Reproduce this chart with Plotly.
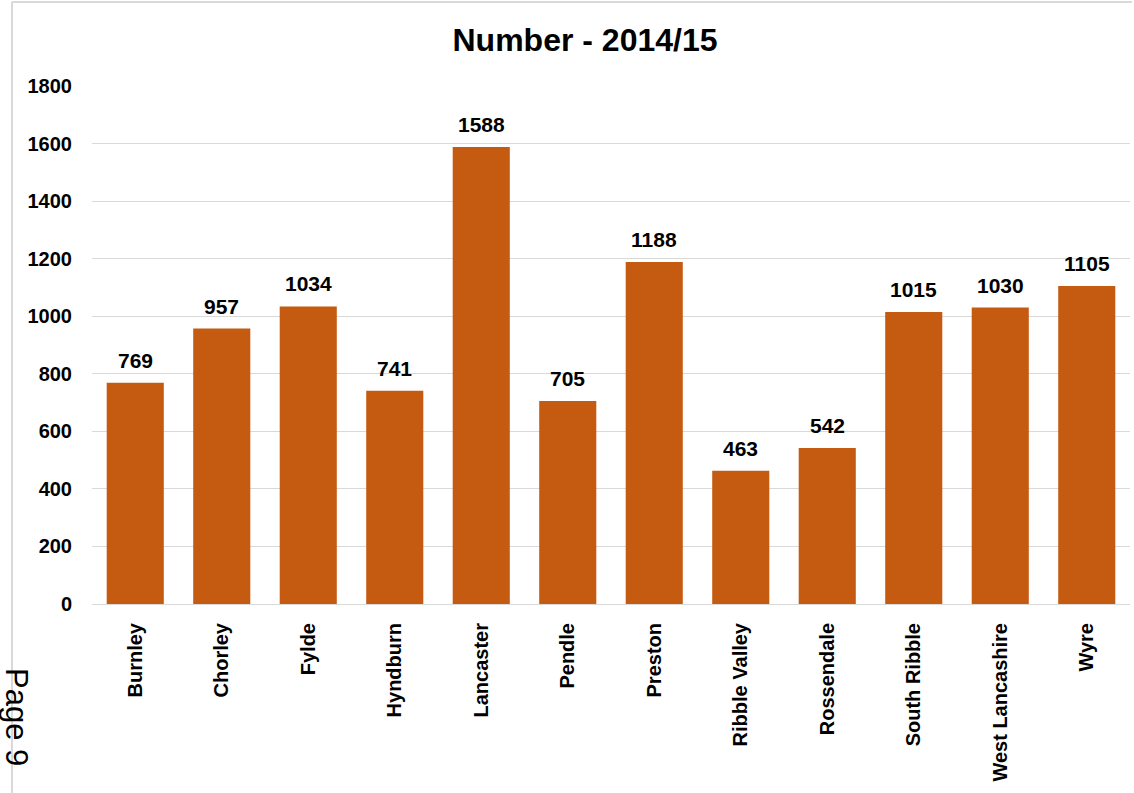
import plotly.graph_objects as go

categories = ["Burnley", "Chorley", "Fylde", "Hyndburn", "Lancaster", "Pendle", "Preston",
              "Ribble Valley", "Rossendale", "South Ribble", "West Lancashire", "Wyre"]
values = [769, 957, 1034, 741, 1588, 705, 1188, 463, 542, 1015, 1030, 1105]
y_ticks = [0, 200, 400, 600, 800, 1000, 1200, 1400, 1600, 1800]

W, H = 1134, 793
L, R, T, B = 92, 4, 86, 189
pw, ph = W - L - R, H - T - B
FONT = "Liberation Sans, Arial"

def px_x(x):
    return (x - L) / pw

def px_y(y):
    return (H - B - y) / ph

fig = go.Figure(go.Bar(
    x=categories, y=values,
    marker=dict(color="#C55A11", line=dict(width=0)),
    hoverinfo="x+y",
))

label_annotations = [
    dict(x=c, y=v, xref="x", yref="y", text="<b>%d</b>" % v, showarrow=False,
         xanchor="center", yanchor="bottom", yshift=9,
         font=dict(family=FONT, size=21, color="#000000"))
    for c, v in zip(categories, values)
]

fig.update_layout(
    width=W, height=H,
    margin=dict(l=L, r=R, t=T, b=B, autoexpand=False),
    paper_bgcolor="white", plot_bgcolor="white",
    bargap=0.34,
    showlegend=False,
    font=dict(family=FONT, color="#000000"),
    title=dict(text="<b>Number - 2014/15</b>", xref="container", x=585 / W, xanchor="center",
               yref="container", y=1 - 40 / H, yanchor="middle",
               font=dict(size=32, family=FONT, color="#000000")),
    xaxis=dict(tickangle=-90, tickfont=dict(size=20, family=FONT),
               tickvals=categories, ticktext=["<b>%s</b>" % c for c in categories],
               showline=True, linecolor="#d9d9d9", linewidth=1, ticks="",
               showgrid=False, ticklabelstandoff=10),
    yaxis=dict(range=[0, 1800], tickvals=y_ticks, ticktext=["<b>%d</b>" % t for t in y_ticks],
               showgrid=True, gridcolor="#d9d9d9",
               gridwidth=1, zeroline=False, ticks="", ticklen=0,
               tickfont=dict(size=20, family=FONT), ticklabelstandoff=19),
    shapes=[
        dict(type="line", xref="paper", yref="paper", x0=px_x(12), x1=px_x(12),
             y0=px_y(2), y1=px_y(793), line=dict(color="#d9d9d9", width=2)),
        dict(type="line", xref="paper", yref="paper", x0=px_x(12), x1=px_x(1132),
             y0=px_y(2), y1=px_y(2), line=dict(color="#d9d9d9", width=2)),
    ],
    annotations=label_annotations + [
        dict(text="Page 9", xref="paper", yref="paper", x=px_x(17), y=px_y(717),
             xanchor="center", yanchor="middle", showarrow=False, textangle=90,
             font=dict(size=31, family=FONT, color="#000000")),
    ],
)

fig.write_html("out.html")
